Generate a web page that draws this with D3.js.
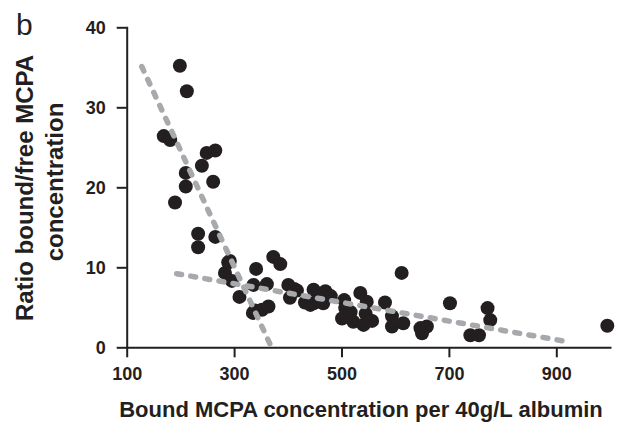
<!DOCTYPE html>
<meta charset="utf-8">
<title>Scatchard plot MCPA</title>
<style>
body { margin: 0; background: #fff; }
text { font-family: "Liberation Sans", Arial, sans-serif; fill: #231f20; }
.axis path, .axis line { stroke: #231f20; stroke-width: 2; }
.axis text { font-size: 18px; font-weight: bold; }
</style>
<body>
<div id="chart"></div>
<script src="https://cdn.jsdelivr.net/npm/d3@7"></script>
<script>
  // bound MCPA (x) and bound/free ratio (y)
  var bound = [199, 212, 169, 181, 249, 265, 240, 210, 261, 210, 190,
               233, 233, 265, 292, 283, 296, 289, 373, 386, 341, 336, 361,
               310, 339, 352, 364, 335, 401, 404, 417, 432, 448, 442, 448,
               458, 470, 466, 480, 412, 505, 507, 501, 522, 517, 535, 547,
               541, 557, 545, 581, 594, 594, 612, 615, 647, 659, 650, 702,
               740, 756, 772, 777, 995];
  var ratio = [35.2, 32.0, 26.4, 25.9, 24.3, 24.6, 22.7, 21.8, 20.7, 20.1, 18.1,
               14.2, 12.5, 13.8, 10.8, 9.3, 8.3, 10.6, 11.3, 10.4, 9.8, 7.8, 7.9,
               6.3, 4.6, 4.7, 5.1, 4.3, 7.8, 6.2, 7.1, 5.6, 7.2, 5.3, 5.5,
               6.3, 7.0, 5.5, 6.4, 7.3, 5.9, 4.9, 3.6, 3.2, 4.4, 6.8, 5.7,
               2.8, 3.3, 4.2, 5.6, 3.9, 2.6, 9.3, 3.0, 2.4, 2.6, 1.75, 5.5,
               1.5, 1.5, 4.9, 3.4, 2.7];

  // the two linear fits (end points)
  var fitSteep = [[128, 35.1], [371, -0.2]];
  var fitFlat = [[193, 9.2], [921, 0.7]];

  var xTicks = [100, 300, 500, 700, 900];
  var yTicks = [0, 10, 20, 30, 40];

  var width = 627, height = 427;

  var svg = d3.select("#chart").append("svg")
      .attr("width", width)
      .attr("height", height);

  var x = d3.scaleLinear().domain([100, 1000]).range([126.7, 610]);
  var y = d3.scaleLinear().domain([0, 40]).range([347.3, 27.3]);

  svg.append("g")
      .attr("class", "axis")
      .attr("transform", "translate(0," + y(0) + ")")
      .call(d3.axisBottom(x).tickValues(xTicks).tickSize(10).tickSizeOuter(0).tickPadding(10));

  svg.append("g")
      .attr("class", "axis")
      .attr("transform", "translate(" + x(100) + ",0)")
      .call(d3.axisLeft(y).tickValues(yTicks).tickSize(10).tickSizeOuter(0).tickPadding(11));

  svg.selectAll(".axis .domain").attr("stroke-linecap", "square");

  // points
  var pts = bound.map(function(b, i) { return [b, ratio[i]]; });
  svg.append("g").selectAll("circle")
      .data(pts)
    .enter().append("circle")
      .attr("cx", function(d) { return x(d[0]); })
      .attr("cy", function(d) { return y(d[1]); })
      .attr("r", 7)
      .attr("fill", "#231f20");

  // dashed fit lines
  var line = d3.line()
      .x(function(d) { return x(d[0]); })
      .y(function(d) { return y(d[1]); });

  svg.selectAll("path.fit")
      .data([fitSteep, fitFlat])
    .enter().append("path")
      .attr("class", "fit")
      .attr("d", line)
      .attr("fill", "none")
      .attr("stroke", "#a7a9ac")
      .attr("stroke-width", 5.5)
      .attr("stroke-linecap", "round")
      .attr("stroke-dasharray", "5,9.3");

  // titles
  svg.append("text")
      .attr("x", 16)
      .attr("y", 35)
      .style("font-size", "30px")
      .text("b");

  svg.append("text")
      .attr("x", 361)
      .attr("y", 417)
      .attr("text-anchor", "middle")
      .style("font-size", "22px")
      .style("font-weight", "bold")
      .text("Bound MCPA concentration per 40g/L albumin");

  svg.append("text")
      .attr("transform", "translate(33,188) rotate(-90)")
      .attr("text-anchor", "middle")
      .style("font-size", "24px")
      .style("font-weight", "bold")
      .text("Ratio bound/free MCPA");

  svg.append("text")
      .attr("transform", "translate(63,182) rotate(-90)")
      .attr("text-anchor", "middle")
      .style("font-size", "24px")
      .style("font-weight", "bold")
      .text("concentration");
</script>
</body>
